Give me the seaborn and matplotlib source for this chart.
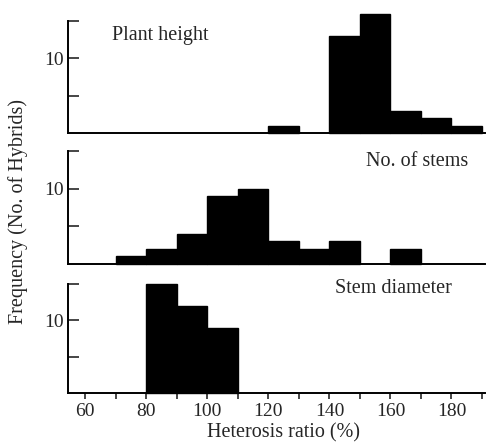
import numpy as np
import pandas as pd
import matplotlib
matplotlib.use('Agg')
import matplotlib.pyplot as plt
import seaborn as sns

# bin edges of the heterosis ratio (%) classes, 10% wide
bins = [60, 70, 80, 90, 100, 110, 120, 130, 140, 150, 160, 170, 180, 190]
bin_left = bins[:-1]

# number of hybrids per class
plant_height = [0, 0, 0, 0, 0, 0, 1, 0, 13, 16, 3, 2, 1]
no_of_stems = [0, 1, 2, 4, 9, 10, 3, 2, 3, 0, 2, 0, 0]
stem_diameter = [0, 0, 15, 12, 9, 0, 0, 0, 0, 0, 0, 0, 0]

panels = ['Plant height', 'No. of stems', 'Stem diameter']

df = pd.DataFrame({'left': bin_left * 3,
                   'count': plant_height + no_of_stems + stem_diameter,
                   'trait': np.repeat(panels, len(bin_left))})

sns.set_style('white')
plt.rcParams['font.family'] = ['Liberation Serif', 'DejaVu Serif']

fig = plt.figure(figsize=(4.88, 4.48), dpi=100)
boxes = [[0.139, 0.703, 0.855, 0.250],
         [0.139, 0.411, 0.855, 0.252],
         [0.139, 0.123, 0.855, 0.243]]
label_pos = [(0.107, 0.87, 'left'), (0.96, 0.91, 'right'), (0.92, 0.96, 'right')]

for i, name in enumerate(panels):
    ax = fig.add_axes(boxes[i])
    sub = df[df['trait'] == name]
    sns.histplot(data=sub, x='left', weights='count', bins=bins,
                 color='black', alpha=1, edgecolor='black', linewidth=1, ax=ax)
    for p in ax.patches:
        p.set_clip_on(False)
        if p.get_height() == 0:
            p.set_linewidth(0)
    ax.set_xlim(54.3, 191)
    ax.set_ylim(0, 15)
    ax.set_yticks([5, 10, 15])
    ax.set_yticklabels(['', '10', ''], fontsize=14)
    ax.tick_params(axis='y', direction='in', length=8, width=1.2, left=True, pad=3)
    ax.set_ylabel('')
    ax.set_xlabel('')
    for s in ['top', 'right']:
        ax.spines[s].set_visible(False)
    for s in ['left', 'bottom']:
        ax.spines[s].set_linewidth(1.4)
        ax.spines[s].set_color('black')
    x, y, ha = label_pos[i]
    ax.text(x, y, name, transform=ax.transAxes, ha=ha, va='center', fontsize=14.5)
    if i < 2:
        ax.set_xticks([])
    else:
        ax.set_xticks(range(60, 191, 10))
        ax.set_xticklabels([str(v) if v % 20 == 0 else '' for v in range(60, 191, 10)],
                           fontsize=14)
        ax.tick_params(axis='x', direction='out', length=4, width=1.2, bottom=True, pad=3)
        ax.set_xlabel('Heterosis ratio (%)', fontsize=14.5, va='bottom')
        ax.xaxis.set_label_coords(0.518, -0.455)

fig.text(0.037, 0.527, 'Frequency (No. of Hybrids)', rotation=90, ha='center', va='center',
         fontsize=14.5)

fig.savefig('out.png', dpi=100)
